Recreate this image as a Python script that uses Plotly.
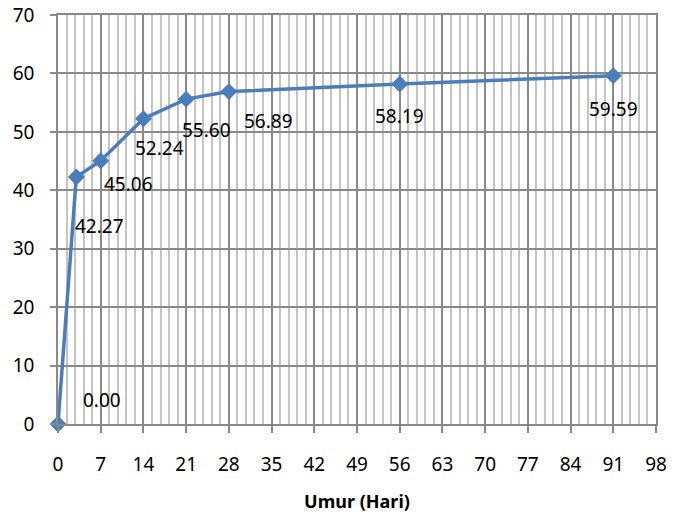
import plotly.graph_objects as go

# Data
umur_hari = [0, 3, 7, 14, 21, 28, 56, 91]
kuat_tekan = [0.00, 42.27, 45.06, 52.24, 55.60, 56.89, 58.19, 59.59]
label_text = ["0.00", "42.27", "45.06", "52.24", "55.60", "56.89", "58.19", "59.59"]
x_ticks = [0, 7, 14, 21, 28, 35, 42, 49, 56, 63, 70, 77, 84, 91, 98]
y_ticks = [0, 10, 20, 30, 40, 50, 60, 70]

# label offsets in pixels (style only)
label_dx = [44, 23, 28, 16, 20, 40, 0, 0]
label_dy = [24, -49, -23, -29, -31, -29, -32, -33]

FONT = "Noto Sans"
BLUE = "#4A7EBB"
MAJOR = "#898989"
MINOR = "#C4C4C4"

fig = go.Figure()
fig.add_trace(go.Scatter(
    x=umur_hari, y=kuat_tekan, mode="lines+markers",
    line=dict(color=BLUE, width=3.5),
    marker=dict(symbol="diamond", size=13, color=BLUE),
    showlegend=False, hoverinfo="skip", cliponaxis=False,
))

for xv, yv, t, dx, dy in zip(umur_hari, kuat_tekan, label_text, label_dx, label_dy):
    fig.add_annotation(x=xv, y=yv, xref="x", yref="y", text=t, showarrow=False,
                       xshift=dx, yshift=dy, xanchor="center", yanchor="middle",
                       font=dict(family=FONT, size=19, color="#000000"))

fig.update_xaxes(
    range=[0, 98], tickmode="array", tickvals=x_ticks, ticktext=[str(v) for v in x_ticks],
    showgrid=True, gridcolor=MAJOR, gridwidth=1.6,
    minor=dict(dtick=1.4, tick0=0, showgrid=True, gridcolor=MINOR, gridwidth=1.6, ticks=""),
    ticks="outside", ticklen=7, tickwidth=1.6, tickcolor=MAJOR,
    showline=True, linecolor=MAJOR, linewidth=1.6, mirror=True,
    zeroline=False, ticklabelstandoff=15, automargin=False,
    tickfont=dict(family=FONT, size=19, color="#000000"),
    title=dict(text="<b>Umur (Hari)</b>", font=dict(family=FONT, size=18, color="#000000"),
               standoff=20),
)
fig.update_yaxes(
    range=[0, 70], tickmode="array", tickvals=y_ticks, ticktext=[str(v) for v in y_ticks],
    showgrid=True, gridcolor=MAJOR, gridwidth=1.6,
    ticks="outside", ticklen=6, tickwidth=1.6, tickcolor=MAJOR,
    showline=True, linecolor=MAJOR, linewidth=1.6, mirror=True,
    zeroline=False, ticklabelstandoff=12, automargin=False,
    tickfont=dict(family=FONT, size=19, color="#000000"),
)

fig.update_layout(
    width=679, height=515,
    margin=dict(l=58, r=23, t=15, b=91),
    paper_bgcolor="white", plot_bgcolor="white",
)

fig.write_html("out.html", config={"displayModeBar": False},
               post_script="document.body.style.margin='0';")
